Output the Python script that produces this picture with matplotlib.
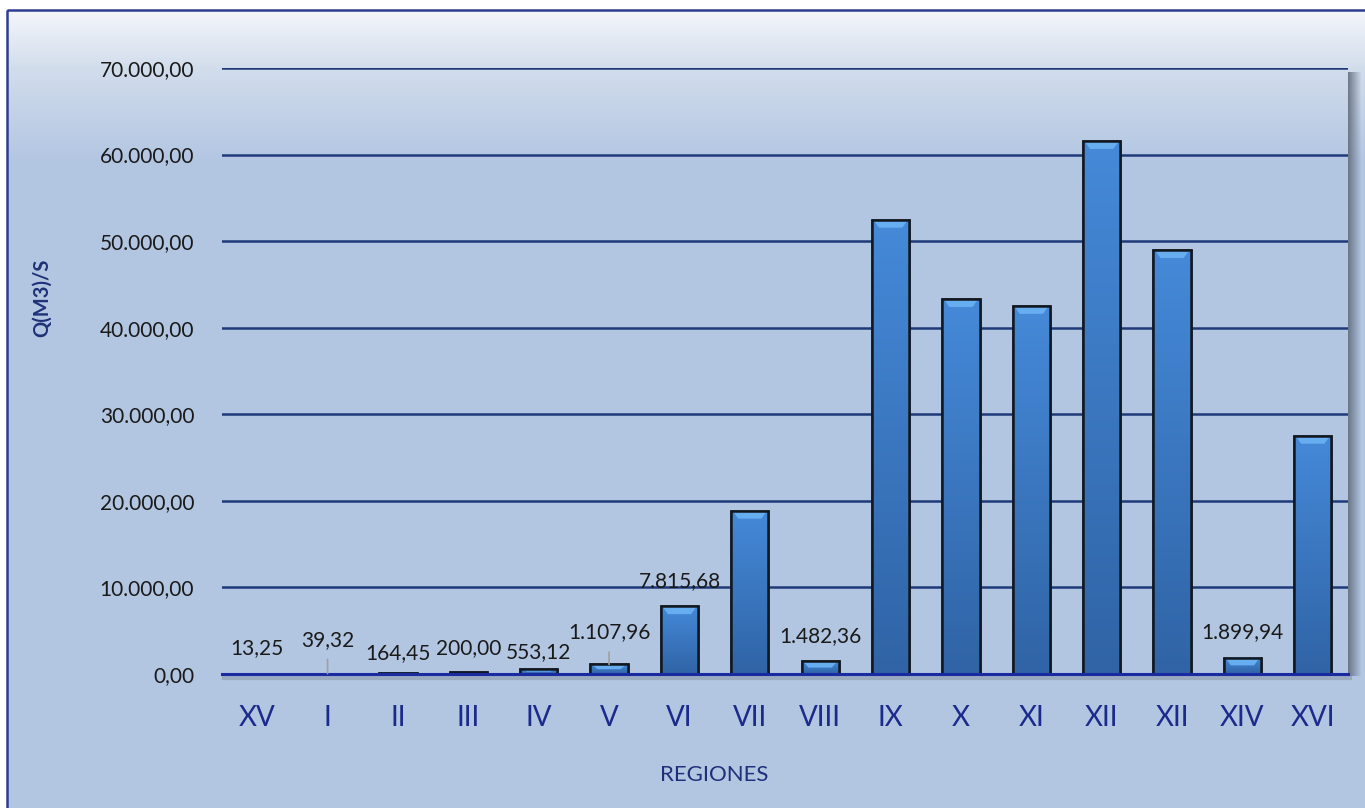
import matplotlib.pyplot as plt
import numpy as np
from matplotlib.patches import Rectangle, Polygon
from matplotlib.colors import to_rgb

plt.rcParams['font.family'] = ['Lato', 'DejaVu Sans']

# data
regions = ["XV", "I", "II", "III", "IV", "V", "VI", "VII", "VIII",
           "IX", "X", "XI", "XII", "XII", "XIV", "XVI"]
caudal = [13.25, 39.32, 164.45, 200.00, 553.12, 1107.96, 7815.68, 18850.0,
          1482.36, 52450.0, 43300.0, 42500.0, 61550.0, 48950.0, 1899.94, 27500.0]
show_label = [True, True, True, True, True, True, True, False,
              True, False, False, False, False, False, True, False]
y_ticks = [0, 10000, 20000, 30000, 40000, 50000, 60000, 70000]

# label placement (pixels above bar top) and leader lines
label_offset = [26, 34, 19, 24, 17, 32, 25, 25, 25, 25, 25, 25, 25, 25, 25, 25]
leader = [False, True, False, False, False, True, False, False,
          False, False, False, False, False, False, False, False]

W, H = 1365, 808
navy = '#1f3a78'
tick_blue = '#1c2a8c'


def fmt_es(v):
    s = f"{v:,.2f}"
    return s.replace(',', 'X').replace('.', ',').replace('X', '.')


fig = plt.figure(figsize=(W / 100, H / 100), dpi=100)
fig.patch.set_facecolor('white')

# background panel with vertical gradient
bg = fig.add_axes([0, 0, 1, 1], zorder=0)
bg.set_xlim(0, W)
bg.set_ylim(H, 0)
bg.axis('off')
stops_y = [10, 68, 160, 808]
stops_c = [to_rgb(c) for c in ['#f4f6fb', '#d2ddec', '#b3c6e2', '#b2c5e1']]
rows = np.arange(10, 808)
grad = np.zeros((len(rows), 1, 3))
for ch in range(3):
    grad[:, 0, ch] = np.interp(rows, stops_y, [c[ch] for c in stops_c])
bg.imshow(grad, extent=(7, W, 808, 10), aspect='auto', interpolation='bilinear')
bg.add_patch(Rectangle((7, 10), W + 10, H + 10, fill=False, edgecolor='#2e3d8f', linewidth=1.8))

# drop shadow right of plot area
sh = np.zeros((1, 14, 4))
sh[..., :3] = to_rgb('#5f6a7a')
sh[0, :, 3] = np.linspace(0.85, 0.0, 14)
bg.imshow(sh, extent=(1348, 1362, 676, 72), aspect='auto', interpolation='bilinear')
bg.set_xlim(0, W)
bg.set_ylim(H, 0)

# main axes
ax = fig.add_axes([222 / W, 134 / H, (1348 - 222) / W, (674 - 68) / H], zorder=1)
ax.patch.set_alpha(0)
x = np.arange(len(regions))

bars = ax.bar(x, caudal, width=0.53, color='#3f80d0', edgecolor='#121820',
              linewidth=1.8, zorder=3)

top_c = np.array(to_rgb('#4589d8'))
bot_c = np.array(to_rgb('#3064a6'))
t = np.linspace(0, 1, 64)[:, None]
bar_grad = (top_c * (1 - t) + bot_c * t)[:, None, :].repeat(2, axis=1)
for rect, v in zip(bars, caudal):
    bx, bw = rect.get_x(), rect.get_width()
    im = ax.imshow(bar_grad, extent=(bx, bx + bw, 0, v), aspect='auto',
                   interpolation='bilinear', zorder=3.1)
    im.set_clip_path(rect)
    bh = min(900, 0.5 * v)
    if v > 400:
        bevel = Polygon([(bx + 0.02, v), (bx + bw - 0.02, v),
                         (bx + bw - 0.1, v - bh), (bx + 0.1, v - bh)],
                        closed=True, facecolor='#66aef0', edgecolor='none', zorder=3.2)
        ax.add_patch(bevel)
    # redraw outline on top
    ax.add_patch(Rectangle((bx, 0), bw, v, fill=False, edgecolor='#121820',
                           linewidth=1.8, zorder=3.3))

ax.set_xlim(-0.5, len(regions) - 0.5)
ax.set_ylim(0, 70000)

for xi, v, show, off, ld in zip(x, caudal, show_label, label_offset, leader):
    if not show:
        continue
    arrow = dict(arrowstyle='-', color='#a0a0a0', lw=1.2, shrinkA=5, shrinkB=0) if ld else None
    ax.annotate(fmt_es(v), xy=(xi, v), xytext=(0, off), textcoords='offset pixels',
                ha='center', va='center', fontsize=15, color='#1a1a1a',
                arrowprops=arrow, zorder=5)

ax.set_yticks(y_ticks)
ax.set_yticklabels([fmt_es(v) for v in y_ticks], fontsize=15, color='#1a1a1a')
ax.set_xticks(x)
ax.set_xticklabels(regions, fontsize=20, color=tick_blue)
ax.tick_params(axis='y', length=0, pad=20)
ax.tick_params(axis='x', length=0, pad=22)
ax.grid(axis='y', color=navy, linewidth=1.8, zorder=1)
ax.set_axisbelow(True)
for s in ['top', 'left', 'right']:
    ax.spines[s].set_visible(False)
ax.spines['bottom'].set_color('#1a2aa0')
ax.spines['bottom'].set_linewidth(2.2)
ax.spines['bottom'].set_zorder(4)

# soft shadow under the zero line
bg.plot([224, 1350], [678, 678], color='#6a7585', alpha=0.35, linewidth=3, zorder=2)

fig.text(42 / W, 1 - 298 / H, "Q(M3)/S", rotation=90, ha='center', va='center',
         fontsize=14.5, fontweight='bold', color='#1f3278')
fig.text(714 / W, 1 - 775 / H, "REGIONES", ha='center', va='center',
         fontsize=16, color='#1f2f7a')

fig.savefig('out.png', dpi=100)
